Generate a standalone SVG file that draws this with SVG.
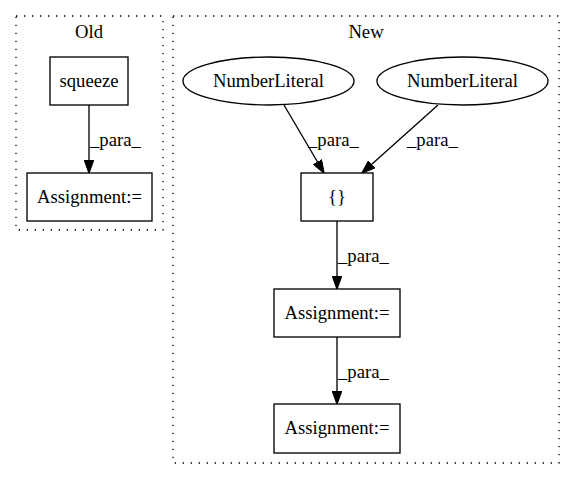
<svg xmlns="http://www.w3.org/2000/svg" width="575" height="480" viewBox="0 0 575 480">
<style>
text { font-family: "Liberation Serif", "Times New Roman", serif; font-size: 18.67px; fill: #000; }
.c { text-anchor: middle; }
.cluster { fill: none; stroke: #000; stroke-width: 1.33; stroke-dasharray: 1.33 6.67; }
.node { fill: #fff; stroke: #000; stroke-width: 1.33; }
.edge { fill: none; stroke: #000; stroke-width: 1.33; }
</style>
<defs>
<marker id="ah" markerWidth="14" markerHeight="10" refX="13" refY="5" orient="auto" markerUnits="userSpaceOnUse">
<path d="M0.5,0.5 L13,5 L0.5,9.5 Z" fill="#000" stroke="#000" stroke-width="1.33"/>
</marker>
</defs>
<rect width="575" height="480" fill="#fff"/>
<g id="cluster_old">
<rect class="cluster" x="16" y="16" width="147" height="214"/>
<text class="c" x="89" y="38">Old</text>
</g>
<g id="cluster_new">
<rect class="cluster" x="173" y="16" width="386" height="447"/>
<text class="c" x="366" y="38">New</text>
</g>
<g id="connectors">
<line class="edge" x1="89" y1="105" x2="89" y2="173" marker-end="url(#ah)"/>
<text x="90" y="146">_para_</text>
<line class="edge" x1="284" y1="105" x2="324" y2="173" marker-end="url(#ah)"/>
<text x="308" y="146">_para_</text>
<line class="edge" x1="438" y1="105" x2="362" y2="173" marker-end="url(#ah)"/>
<text x="407" y="146">_para_</text>
<line class="edge" x1="337" y1="221" x2="337" y2="289" marker-end="url(#ah)"/>
<text x="338" y="262">_para_</text>
<line class="edge" x1="337" y1="337" x2="337" y2="404" marker-end="url(#ah)"/>
<text x="338" y="378">_para_</text>
</g>
<g id="squeeze">
<rect class="node" x="50" y="57" width="78" height="48"/>
<text class="c" x="89" y="87">squeeze</text>
</g>
<g id="assign_old">
<rect class="node" x="27" y="173" width="125" height="48"/>
<text class="c" x="89.5" y="203">Assignment:=</text>
</g>
<g id="numlit1">
<ellipse class="node" cx="268.5" cy="81" rx="85.5" ry="24"/>
<text class="c" x="268.5" y="87">NumberLiteral</text>
</g>
<g id="numlit2">
<ellipse class="node" cx="462.5" cy="81" rx="85.5" ry="24"/>
<text class="c" x="462.5" y="87">NumberLiteral</text>
</g>
<g id="braces">
<rect class="node" x="301" y="173" width="72" height="48"/>
<text class="c" x="337" y="203">{}</text>
</g>
<g id="assign_new1">
<rect class="node" x="274" y="289" width="126" height="48"/>
<text class="c" x="337" y="319">Assignment:=</text>
</g>
<g id="assign_new2">
<rect class="node" x="274" y="404" width="126" height="49"/>
<text class="c" x="337" y="434">Assignment:=</text>
</g>
</svg>
